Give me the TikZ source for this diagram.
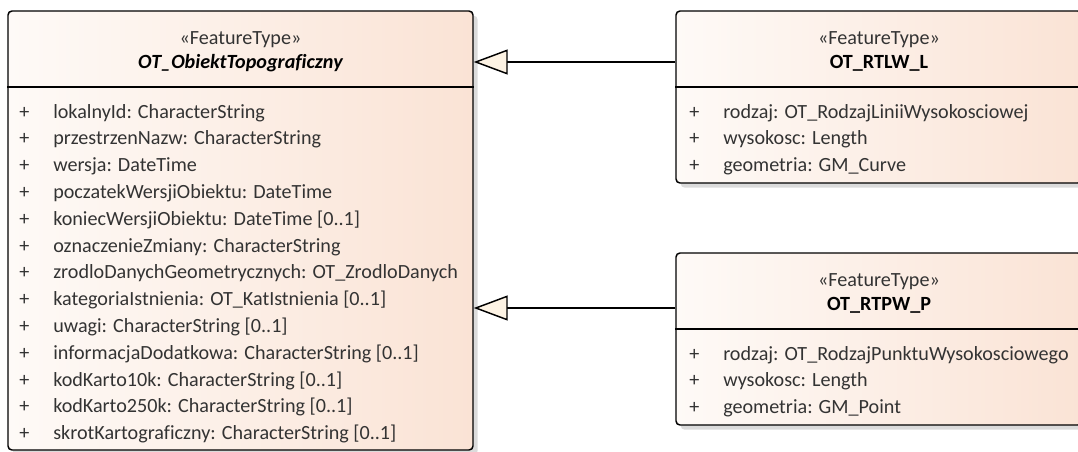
\documentclass[tikz,border=0pt]{standalone}
\usepackage{fontspec}
\setmainfont{Carlito}[Ligatures=NoCommon]
\usetikzlibrary{arrows.meta,shadows}
\definecolor{boxleft}{HTML}{FEFAF7}
\definecolor{boxright}{HTML}{FAE3D5}
\definecolor{tipfill}{HTML}{FDF3E4}
\definecolor{txt}{HTML}{333333}
\tikzset{
  classbox/.style={draw=black, line width=1.1pt, rounded corners=3pt, inner sep=0pt,
    left color=boxleft, right color=boxright,
    drop shadow={shadow xshift=3.5pt, shadow yshift=-3.5pt, fill=black!14, opacity=1}},
  attr/.style={anchor=mid west, inner sep=0pt, text=txt, font=\fontsize{15.1}{18}\selectfont},
  stereo/.style={attr, anchor=mid},
  classname/.style={stereo, text=black, font=\fontsize{15.1}{18}\selectfont\bfseries},
  gen/.style={line width=1.1pt, -{Triangle[length=25.5pt, width=18.75pt, fill=tipfill]}}
}
\begin{document}
\begin{tikzpicture}[x=0.75pt, y=-0.75pt]
  \useasboundingbox (0,0) rectangle (1078,451);
  \clip (0,0) rectangle (1078,451);
  \node[classbox, minimum width=348.75pt, minimum height=329.25pt] (obiekt) at (240.5,230.5) {};
  \node[classbox, minimum width=304.5pt, minimum height=129pt] (rtlw) at (879,97) {};
  \node[classbox, minimum width=304.5pt, minimum height=129pt] (rtpw) at (879,339) {};
  \draw[line width=1.1pt] (obiekt.west |- 0,87) -- (obiekt.east |- 0,87);
  \draw[line width=1.1pt] (rtlw.west |- 0,87) -- (rtlw.east |- 0,87);
  \draw[line width=1.1pt] (rtpw.west |- 0,329) -- (rtpw.east |- 0,329);
  \node[stereo] (obiekt-st) at (obiekt.north |- 0,41) {«FeatureType»};
  \node[classname, font=\fontsize{15.1}{18}\selectfont\bfseries\itshape] (obiekt-name) at (obiekt.north |- 0,65) {OT\_ObiektTopograficzny};
  \node[stereo] (rtlw-st) at (rtlw.north |- 0,41) {«FeatureType»};
  \node[classname] (rtlw-name) at (rtlw.north |- 0,65) {OT\_RTLW\_L};
  \node[stereo] (rtpw-st) at (rtpw.north |- 0,283) {«FeatureType»};
  \node[classname] (rtpw-name) at (rtpw.north |- 0,307) {OT\_RTPW\_P};
  \foreach \attr [count=\i from 0] in {{lokalnyId: CharacterString},
      {przestrzenNazw: CharacterString}, {wersja: DateTime},
      {poczatekWersjiObiektu: DateTime}, {koniecWersjiObiektu: DateTime [0..1]},
      {oznaczenieZmiany: CharacterString},
      {zrodloDanychGeometrycznych: OT\_ZrodloDanych},
      {kategoriaIstnienia: OT\_KatIstnienia [0..1]}, {uwagi: CharacterString [0..1]},
      {informacjaDodatkowa: CharacterString [0..1]}, {kodKarto10k: CharacterString [0..1]},
      {kodKarto250k: CharacterString [0..1]}, {skrotKartograficzny: CharacterString [0..1]}} {
    \node[attr] (obiekt-p\i) at (19,115+26.8*\i) {+};
    \node[attr] (obiekt-a\i) at (53,115+26.8*\i) {\attr};
  }
  \foreach \attr [count=\i from 0] in {{rodzaj: OT\_RodzajLiniiWysokosciowej},
      {wysokosc: Length}, {geometria: GM\_Curve}} {
    \node[attr] (rtlw-p\i) at (689,115+26.8*\i) {+};
    \node[attr] (rtlw-a\i) at (723,115+26.8*\i) {\attr};
  }
  \foreach \attr [count=\i from 0] in {{rodzaj: OT\_RodzajPunktuWysokosciowego},
      {wysokosc: Length}, {geometria: GM\_Point}} {
    \node[attr] (rtpw-p\i) at (689,357+26.8*\i) {+};
    \node[attr] (rtpw-a\i) at (723,357+26.8*\i) {\attr};
  }
  \draw[gen] (rtlw.west |- 0,62) -- (obiekt.east |- 0,62);
  \draw[gen] (rtpw.west |- 0,308) -- (obiekt.east |- 0,308);
\end{tikzpicture}
\end{document}
